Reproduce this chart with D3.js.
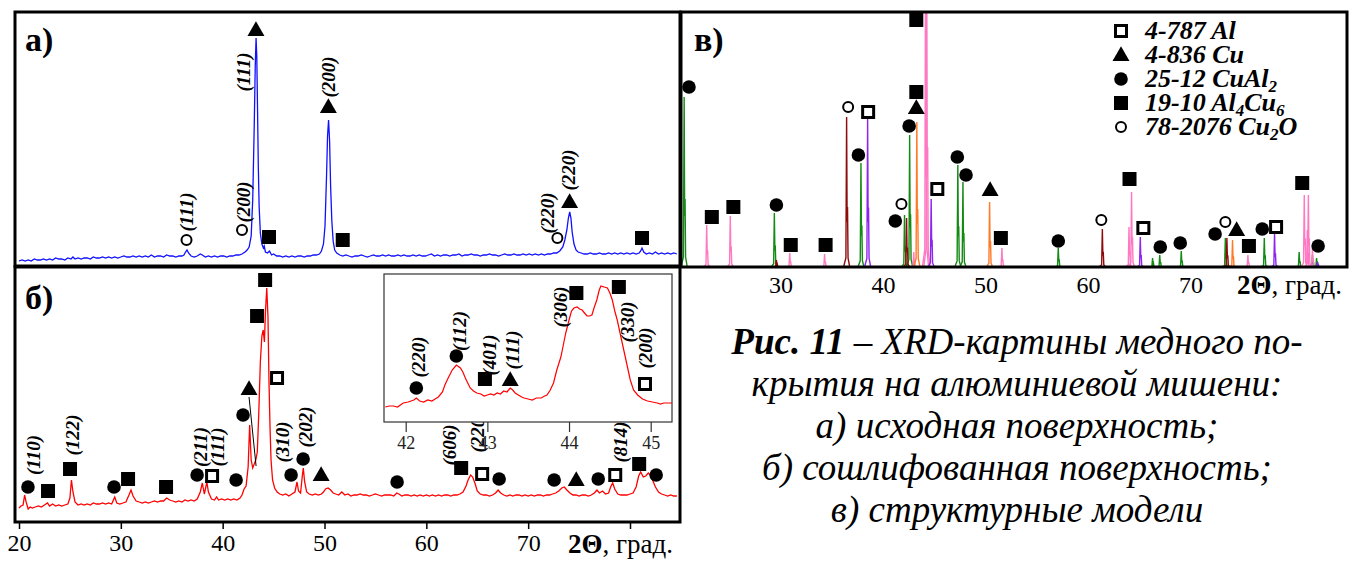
<!DOCTYPE html>
<html>
<head>
<meta charset="utf-8">
<script src="https://cdn.jsdelivr.net/npm/d3@7/dist/d3.min.js"></script>
<style>
  body { margin: 0; background: #fff; }
  svg { display: block; }
</style>
</head>
<body>
<div id="chart"></div>
<script>
// ---- data (2θ in degrees, intensity in arbitrary units) ----

// а) original surface, blue pattern
var patternA = [[20.0,5],[20.3,6],[20.6,5],[20.9,6],[21.2,5],[21.5,7],[21.8,6],[22.1,6],[22.4,7],[22.7,6],[23.0,7],[23.3,6],[23.6,8],[23.9,7],[24.2,7],[24.5,6],[24.8,8],[25.1,7],[25.3,9],[25.5,7],[25.8,8],[26.1,7],[26.4,8],[26.7,8],[27.0,7],[27.3,9],[27.6,8],[27.9,8],[28.2,9],[28.5,8],[28.8,9],[29.1,8],[29.4,9],[29.7,8],[30.0,9],[30.3,10],[30.6,9],[30.9,9],[31.2,10],[31.5,9],[31.8,10],[32.1,9],[32.4,10],[32.7,9],[33.0,11],[33.3,9],[33.6,10],[33.9,10],[34.2,9],[34.5,11],[34.8,10],[35.1,10],[35.4,9],[35.7,10],[36.0,10],[36.2,11],[36.35,14],[36.5,16],[36.65,13],[36.9,10],[37.2,9],[37.5,10],[37.8,12],[38.0,11],[38.3,9],[38.6,10],[38.9,9],[39.2,10],[39.5,9],[39.8,10],[40.1,10],[40.4,9],[40.7,10],[41.0,10],[41.3,11],[41.6,11],[41.9,12],[42.2,14],[42.4,16],[42.6,19],[42.8,30],[42.95,66],[43.1,140],[43.2,200],[43.28,228],[43.35,210],[43.42,160],[43.5,100],[43.58,60],[43.7,33],[43.85,22],[44.0,18],[44.08,20],[44.2,14],[44.4,13],[44.6,15],[44.8,11],[45.0,12],[45.3,10],[45.6,10],[45.9,9],[46.2,10],[46.5,9],[46.8,10],[47.1,9],[47.4,10],[47.7,10],[48.0,9],[48.3,10],[48.6,10],[48.9,11],[49.2,11],[49.5,12],[49.7,15],[49.9,22],[50.05,40],[50.2,90],[50.3,130],[50.4,146],[50.5,125],[50.6,80],[50.72,45],[50.85,25],[51.0,16],[51.2,13],[51.5,11],[51.8,10],[52.1,11],[52.4,10],[52.7,9],[53.0,10],[53.3,10],[53.6,11],[53.9,10],[54.2,9],[54.5,10],[54.8,11],[55.1,10],[55.4,10],[55.7,11],[56.0,10],[56.3,11],[56.6,10],[56.9,10],[57.2,11],[57.5,10],[57.8,11],[58.1,10],[58.4,10],[58.7,11],[59.0,10],[59.3,11],[59.6,10],[59.9,10],[60.2,11],[60.5,12],[60.8,10],[61.1,11],[61.4,10],[61.7,11],[62.0,11],[62.3,10],[62.6,11],[62.9,11],[63.2,12],[63.5,10],[63.8,11],[64.1,11],[64.4,12],[64.7,11],[65.0,11],[65.3,10],[65.6,11],[65.9,11],[66.2,12],[66.5,11],[66.8,11],[67.1,10],[67.4,11],[67.7,12],[68.0,11],[68.3,11],[68.6,12],[68.9,11],[69.2,11],[69.5,12],[69.8,11],[70.1,12],[70.4,11],[70.7,12],[71.0,11],[71.3,12],[71.6,11],[71.9,12],[72.2,12],[72.5,13],[72.8,13],[73.1,15],[73.4,19],[73.6,26],[73.8,36],[73.95,48],[74.08,54],[74.2,48],[74.32,34],[74.5,22],[74.7,16],[74.9,14],[75.2,13],[75.5,12],[75.8,12],[76.1,13],[76.4,12],[76.7,12],[77.0,13],[77.3,12],[77.6,12],[77.9,13],[78.2,12],[78.5,13],[78.8,12],[79.1,13],[79.4,12],[79.7,13],[80.0,12],[80.3,13],[80.6,12],[80.9,13],[81.05,15],[81.18,18],[81.35,14],[81.6,12],[81.9,13],[82.2,12],[82.5,14],[82.8,12],[83.1,13],[83.4,12],[83.7,13],[84.0,12],[84.3,13],[84.6,12]];

// б) ground surface, red pattern
var patternB = [[20.0,14],[20.2,16],[20.4,17],[20.55,27],[20.7,20],[20.9,13],[21.1,15],[21.3,14],[21.6,15],[21.9,16],[22.2,15],[22.5,17],[22.8,19],[23.0,16],[23.3,18],[23.6,16],[23.9,17],[24.2,16],[24.5,17],[24.8,18],[25.0,24],[25.15,42],[25.3,30],[25.5,20],[25.8,17],[26.1,18],[26.4,17],[26.7,18],[27.0,17],[27.3,19],[27.6,18],[27.9,18],[28.2,19],[28.5,18],[28.8,19],[29.1,18],[29.4,25],[29.6,19],[29.9,18],[30.2,19],[30.5,20],[30.8,27],[31.0,32],[31.2,26],[31.5,21],[31.8,20],[32.1,19],[32.4,20],[32.7,19],[33.0,20],[33.3,21],[33.6,20],[33.9,21],[34.2,21],[34.5,24],[34.8,22],[35.1,21],[35.4,20],[35.7,21],[36.0,20],[36.3,22],[36.6,21],[36.9,22],[37.2,21],[37.5,23],[37.8,30],[38.0,39],[38.2,28],[38.45,40],[38.6,30],[38.9,23],[39.2,22],[39.4,25],[39.6,22],[39.9,23],[40.2,22],[40.5,23],[40.8,22],[41.1,23],[41.4,22],[41.7,24],[41.9,27],[42.1,33],[42.3,36],[42.5,55],[42.65,97],[42.8,62],[42.95,54],[43.1,58],[43.25,62],[43.4,70],[43.55,110],[43.7,160],[43.85,186],[43.98,192],[44.1,180],[44.2,210],[44.33,234],[44.45,205],[44.55,140],[44.65,95],[44.75,62],[44.9,42],[45.1,34],[45.35,30],[45.6,28],[45.9,27],[46.2,28],[46.5,26],[46.8,28],[47.1,30],[47.3,40],[47.45,31],[47.65,29],[47.82,46],[47.92,54],[48.05,40],[48.25,30],[48.5,28],[48.8,27],[49.1,28],[49.4,27],[49.7,28],[49.9,30],[50.1,33],[50.35,34],[50.6,32],[50.85,29],[51.1,28],[51.4,27],[51.7,30],[52.0,27],[52.3,28],[52.6,26],[52.9,27],[53.2,27],[53.5,28],[53.8,27],[54.1,27],[54.4,26],[54.7,27],[55.0,28],[55.3,27],[55.6,26],[55.9,27],[56.2,27],[56.5,27],[56.8,26],[57.1,29],[57.3,28],[57.6,26],[57.9,27],[58.2,27],[58.5,26],[58.8,27],[59.1,26],[59.4,27],[59.7,26],[60.0,27],[60.3,26],[60.6,27],[60.9,26],[61.2,27],[61.5,26],[61.8,27],[62.1,27],[62.4,26],[62.7,27],[63.0,27],[63.3,28],[63.6,30],[63.9,36],[64.1,42],[64.35,47],[64.55,45],[64.8,38],[65.0,31],[65.3,28],[65.6,27],[65.9,27],[66.2,26],[66.5,27],[66.8,29],[67.05,32],[67.3,29],[67.6,27],[67.9,26],[68.2,27],[68.5,26],[68.8,27],[69.1,27],[69.4,26],[69.7,27],[70.0,26],[70.3,27],[70.6,26],[70.9,27],[71.2,27],[71.5,26],[71.8,27],[72.1,27],[72.4,28],[72.7,29],[73.0,31],[73.3,34],[73.55,35],[73.8,32],[74.1,29],[74.4,27],[74.7,27],[75.0,26],[75.3,27],[75.6,27],[75.9,26],[76.2,27],[76.5,29],[76.75,32],[77.0,29],[77.3,31],[77.6,28],[77.9,29],[78.1,35],[78.3,39],[78.5,33],[78.8,28],[79.1,27],[79.4,27],[79.7,27],[80.0,28],[80.3,29],[80.6,35],[80.85,46],[81.05,50],[81.3,45],[81.55,46],[81.8,49],[82.0,47],[82.25,41],[82.5,35],[82.8,30],[83.1,28],[83.4,27],[83.7,26],[84.0,27],[84.3,26],[84.6,26]];

// б) inset, 42-45 degrees
var patternInset = [[41.75,3],[41.8,4],[41.85,4],[41.9,3],[41.97,7],[42.03,8],[42.1,10],[42.13,12],[42.17,9],[42.22,8],[42.27,10],[42.32,9],[42.36,11],[42.4,13],[42.45,18],[42.48,25],[42.52,32],[42.57,40],[42.62,45],[42.67,42],[42.7,38],[42.73,32],[42.76,27],[42.79,22],[42.83,19],[42.87,17],[42.92,16],[42.96,14],[43.0,15],[43.04,16],[43.08,15],[43.12,17],[43.16,16],[43.2,19],[43.24,18],[43.28,22],[43.31,20],[43.34,17],[43.38,15],[43.42,13],[43.45,12],[43.5,11],[43.55,10],[43.6,12],[43.66,12],[43.7,14],[43.73,15],[43.77,20],[43.81,27],[43.85,40],[43.9,53],[43.93,65],[43.96,77],[44.0,90],[44.03,99],[44.06,102],[44.1,103],[44.13,101],[44.16,100],[44.2,96],[44.22,94],[44.25,94],[44.28,95],[44.31,103],[44.34,110],[44.37,120],[44.39,124],[44.43,123],[44.47,122],[44.5,117],[44.53,110],[44.56,99],[44.59,90],[44.63,75],[44.67,60],[44.71,45],[44.75,30],[44.79,20],[44.84,15],[44.9,11],[44.96,9],[45.02,8],[45.08,7],[45.12,6],[45.16,7],[45.22,7],[45.26,7]];

// phase markers: [2θ, height, phase]
var markersA = [[36.45,26,"Cu2O"],[41.9,36,"Cu2O"],[43.27,236,"Cu"],[44.55,29,"Al4Cu9"],[50.38,159,"Cu"],[51.79,26,"Al4Cu9"],[72.87,28,"Cu2O"],[74.07,64,"Cu"],[81.18,28,"Al4Cu9"]];
var markersB = [[20.88,35,"CuAl2"],[22.85,31,"Al4Cu9"],[25.01,53,"Al4Cu9"],[29.33,35,"CuAl2"],[30.71,43,"Al4Cu9"],[34.44,35,"Al4Cu9"],[37.49,47,"CuAl2"],[38.96,46,"Al"],[41.32,42,"CuAl2"],[42.0,107,"CuAl2"],[42.59,133,"Cu"],[43.38,206,"Al4Cu9"],[44.17,242,"Al4Cu9"],[45.34,144,"Al"],[46.72,47,"CuAl2"],[47.9,63,"CuAl2"],[49.67,47,"Cu"],[57.13,40,"CuAl2"],[63.42,54,"Al4Cu9"],[65.48,48,"Al"],[67.15,43,"CuAl2"],[72.55,42,"CuAl2"],[74.72,42,"Cu"],[76.88,43,"CuAl2"],[78.55,47,"Al"],[80.9,58,"Al4Cu9"],[82.57,47,"CuAl2"]];
var markersInset = [[42.13,22,"CuAl2"],[42.62,54,"CuAl2"],[42.97,31,"Al4Cu9"],[43.28,30,"Cu"],[44.09,117,"Al4Cu9"],[44.61,123,"Al4Cu9"],[44.93,26,"Al"]];
var markersC = [[21.07,180,"CuAl2"],[23.3,50,"Al4Cu9"],[25.4,60,"Al4Cu9"],[29.6,62,"CuAl2"],[31.0,22,"Al4Cu9"],[34.4,22,"Al4Cu9"],[36.6,160,"Cu2O"],[38.55,155,"Al"],[37.6,112,"CuAl2"],[41.2,46,"CuAl2"],[41.8,63,"Cu2O"],[42.55,141,"CuAl2"],[43.25,159,"Cu"],[43.25,175,"Al4Cu9"],[43.25,247,"Al4Cu9"],[45.3,78,"Al"],[47.25,110,"CuAl2"],[48.1,92,"CuAl2"],[50.45,77,"Cu"],[51.5,29,"Al4Cu9"],[57.1,26,"CuAl2"],[61.3,47,"Cu2O"],[64.05,88,"Al4Cu9"],[65.4,39,"Al"],[67.05,20,"CuAl2"],[69.0,24,"CuAl2"],[72.4,33,"CuAl2"],[73.4,45,"Cu2O"],[74.5,37,"Cu"],[75.7,21,"Al4Cu9"],[77.0,38,"CuAl2"],[78.35,40,"Al"],[80.9,84,"Al4Cu9"],[82.45,21,"CuAl2"]];

// Miller index labels: [2θ, height, text]
var hklA = [[36.45,54,"(111)"],[42.0,64,"(200)"],[42.07,194,"(111)"],[50.38,189,"(200)"],[71.9,53,"(220)"],[73.93,96,"(220)"]];
var hklB = [[21.38,67,"(110)"],[25.2,87,"(122)"],[37.78,75,"(211)"],[39.45,75,"(111)"],[45.83,80,"(310)"],[48.1,95,"(202)"],[62.24,77,"(606)"],[64.99,90,"(220)"],[79.04,80,"(814)"]];
var hklInset = [[42.15,53,"(220)"],[42.66,79,"(112)"],[43.03,55,"(401)"],[43.31,60,"(111)"],[43.89,103,"(306)"],[44.72,88,"(330)"],[44.93,62,"(200)"]];
// line from Cu marker to its small peak in б)
var cuLeader = [[42.59,125],[43.28,56]];

// в) card lines per phase: [2θ, height]
var linesCuAl2 = [[20.6,170],[29.4,54],[37.85,104],[42.1,52],[42.6,132],[47.3,102],[47.8,85],[57.1,19],[66.3,9],[67.0,12],[69.1,16],[73.4,29],[77.2,29],[80.6,15],[81.9,12],[82.3,9]];
var linesAl4Cu9 = [[22.8,42],[25.1,51],[30.9,14],[34.3,13],[43.0,15],[44.15,300],[44.27,300],[51.6,19],[64.0,40],[64.25,75],[75.6,12],[81.1,72],[81.4,37],[81.5,72],[81.9,18]];
var linesCu2O = [[29.6,7],[36.45,150],[42.3,49],[61.4,38],[73.55,29]];
var linesAl = [[38.5,149],[44.7,68],[65.1,30],[78.2,34],[82.4,5]];
var linesCu = [[43.3,145],[50.4,65],[74.1,27]];

var ticksMain = [20, 30, 40, 50, 60, 70, 80];
var ticksC = [30, 40, 50, 60, 70];
var ticksInset = [42, 43, 44, 45];

var legendCards = ["4-787", "4-836", "25-12", "19-10", "78-2076"];
var legendPhases = ["Al", "Cu", "CuAl2", "Al4Cu9", "Cu2O"];
var legendNames = [[["Al",0]], [["Cu",0]], [["CuAl",0],["2",1]], [["Al",0],["4",1],["Cu",0],["6",1]], [["Cu",0],["2",1],["O",0]]];

var captionLines = [
    [["Рис. 11", true], [" – XRD-картины медного по-", false]],
    [["крытия на алюминиевой мишени:", false]],
    [["а) исходная поверхность;", false]],
    [["б) сошлифованная поверхность;", false]],
    [["в) структурные модели", false]]
];

// ---- drawing ----
var serif = "'Liberation Serif', 'DejaVu Serif', serif";

var svg = d3.select("#chart").append("svg")
    .attr("width", 1350)
    .attr("height", 563);

var x = d3.scaleLinear().domain([20, 80]).range([19, 630]);
var yA = d3.scaleLinear().domain([0, 254]).range([266, 12]);
var yB = d3.scaleLinear().domain([0, 255]).range([522, 267]);
var xIn = d3.scaleLinear().domain([42, 45]).range([405.7, 650.7]);
var yIn = d3.scaleLinear().domain([0, 136]).range([410, 274]);
var xC = d3.scaleLinear().domain([40, 50]).range([883, 985.5]);
var yC = d3.scaleLinear().domain([0, 255]).range([267, 12]);

var phaseColor = {CuAl2: "#138a13", Al4Cu9: "#ff78c2", Cu2O: "#8e0b0b", Al: "#8d25ee", Cu: "#ff7a26"};

function drawMarker(g, type, px, py) {
    if (type == "Cu") {
        g.append("path")
            .attr("d", d3.symbol(d3.symbolTriangle, 125)())
            .attr("transform", "translate(" + px + "," + (py + 1) + ")")
            .attr("fill", "#000");
    } else if (type == "CuAl2") {
        g.append("circle").attr("cx", px).attr("cy", py).attr("r", 6.8).attr("fill", "#000");
    } else if (type == "Al4Cu9") {
        g.append("rect").attr("x", px - 7).attr("y", py - 7).attr("width", 14).attr("height", 14).attr("fill", "#000");
    } else if (type == "Al") {
        g.append("rect").attr("x", px - 5.5).attr("y", py - 5.5).attr("width", 11).attr("height", 11)
            .attr("fill", "#fff").attr("stroke", "#000").attr("stroke-width", 3);
    } else {
        g.append("circle").attr("cx", px).attr("cy", py).attr("r", 5)
            .attr("fill", "#fff").attr("stroke", "#000").attr("stroke-width", 2);
    }
}

function drawMarkers(g, list, xs, ys) {
    list.forEach(function(d) { drawMarker(g, d[2], xs(d[0]), ys(d[1])); });
}

function drawHkl(g, list, xs, ys) {
    g.selectAll(null)
        .data(list)
        .enter().append("text")
        .attr("transform", function(d) { return "translate(" + xs(d[0]) + "," + ys(d[1]) + ") rotate(-90)"; })
        .attr("text-anchor", "middle")
        .attr("dy", "0.35em")
        .style("font-family", serif)
        .style("font-size", "19px")
        .style("font-weight", "bold")
        .style("font-style", "italic")
        .text(function(d) { return d[2]; });
}

function panelLabel(px, py, txt) {
    svg.append("text")
        .attr("x", px).attr("y", py)
        .style("font-family", serif)
        .style("font-size", "34px")
        .style("font-weight", "bold")
        .text(txt);
}

// а) pattern
var gA = svg.append("g");
gA.append("path")
    .datum(patternA)
    .attr("fill", "none")
    .attr("stroke", "#1010ff")
    .attr("stroke-width", 1.3)
    .attr("d", d3.line().x(function(d) { return x(d[0]); }).y(function(d) { return yA(d[1]); }));
drawMarkers(gA, markersA, x, yA);
drawHkl(gA, hklA, x, yA);

// б) pattern
var gB = svg.append("g");
gB.append("path")
    .datum(patternB)
    .attr("fill", "none")
    .attr("stroke", "#ff0000")
    .attr("stroke-width", 1.3)
    .attr("d", d3.line().x(function(d) { return x(d[0]); }).y(function(d) { return yB(d[1]); }));
gB.append("line")
    .attr("x1", x(cuLeader[0][0])).attr("y1", yB(cuLeader[0][1]))
    .attr("x2", x(cuLeader[1][0])).attr("y2", yB(cuLeader[1][1]))
    .attr("stroke", "#000").attr("stroke-width", 1);
drawMarkers(gB, markersB, x, yB);
drawHkl(gB, hklB, x, yB);

// б) x axis
var axisB = svg.append("g")
    .attr("transform", "translate(0,522)")
    .call(d3.axisBottom(x).tickValues(ticksMain).tickSize(7).tickPadding(5)
        .tickFormat(function(d) { return d == 80 ? "" : d; }));
axisB.select(".domain").remove();
axisB.selectAll("line").attr("stroke", "#000").attr("stroke-width", 1.5);
axisB.selectAll("text").style("font-family", serif).style("font-size", "24px").attr("fill", "#000");

// inset
var gIn = svg.append("g");
gIn.append("rect")
    .attr("x", 384).attr("y", 274).attr("width", 288).attr("height", 148)
    .attr("fill", "#fff").attr("stroke", "#333").attr("stroke-width", 1.2);
gIn.append("path")
    .datum(patternInset)
    .attr("fill", "none")
    .attr("stroke", "#ff0000")
    .attr("stroke-width", 1.2)
    .attr("d", d3.line().x(function(d) { return xIn(d[0]); }).y(function(d) { return yIn(d[1]); }));
drawMarkers(gIn, markersInset, xIn, yIn);
drawHkl(gIn, hklInset, xIn, yIn);
var axisIn = gIn.append("g")
    .attr("transform", "translate(0,422)")
    .call(d3.axisBottom(xIn).tickValues(ticksInset).tickSize(10).tickPadding(4).tickFormat(d3.format("d")));
axisIn.select(".domain").remove();
axisIn.selectAll("line").attr("stroke", "#333").attr("stroke-width", 1.2);
axisIn.selectAll("text").style("font-family", serif).style("font-size", "18px").attr("fill", "#222");

// в) card lines
svg.append("clipPath").attr("id", "clipC")
    .append("rect").attr("x", 681).attr("y", 12).attr("width", 666).attr("height", 255);
var gC = svg.append("g");
var gLines = gC.append("g").attr("clip-path", "url(#clipC)");
var stick = d3.line().x(function(d) { return xC(d[0]); }).y(function(d) { return yC(d[1]); });
function drawSticks(list, color) {
    gLines.selectAll(null)
        .data(list)
        .enter().append("path")
        .attr("fill", "none")
        .attr("stroke", color)
        .attr("stroke-width", 1.4)
        .attr("d", function(d) {
            var t = d[0], h = d[1];
            return stick([[t - 0.3, 0], [t - 0.07, h * 0.06], [t, h], [t + 0.05, h * 0.3],
                          [t + 0.09, h * 0.4], [t + 0.14, h * 0.06], [t + 0.3, 0]]);
        });
}
drawSticks(linesCuAl2, phaseColor.CuAl2);
drawSticks(linesAl4Cu9, phaseColor.Al4Cu9);
drawSticks(linesCu2O, phaseColor.Cu2O);
drawSticks(linesAl, phaseColor.Al);
drawSticks(linesCu, phaseColor.Cu);
drawMarkers(gC, markersC, xC, yC);

var axisC = svg.append("g")
    .attr("transform", "translate(0,267)")
    .call(d3.axisBottom(xC).tickValues(ticksC).tickSize(0).tickPadding(9));
axisC.select(".domain").remove();
axisC.selectAll("text").style("font-family", serif).style("font-size", "24px").attr("fill", "#000");

// legend
var legend = svg.append("g");
legendPhases.forEach(function(p, i) {
    var cy = 31 + i * 24;
    drawMarker(legend, p, 1121, cy);
    var t = legend.append("text")
        .attr("x", 1145).attr("y", cy + 8)
        .style("font-family", serif)
        .style("font-size", "26px")
        .style("font-weight", "bold")
        .style("font-style", "italic");
    t.append("tspan").text(legendCards[i] + " ");
    var low = false;
    legendNames[i].forEach(function(part) {
        var s = t.append("tspan").text(part[0]);
        if (part[1]) {
            s.attr("dy", low ? 0 : 5).style("font-size", "17px");
            low = true;
        } else if (low) {
            s.attr("dy", -5);
            low = false;
        }
    });
});

// axis titles
function axisTitle(px, py) {
    var t = svg.append("text").attr("x", px).attr("y", py)
        .attr("text-anchor", "end")
        .style("font-family", serif).style("font-size", "27px");
    t.append("tspan").style("font-weight", "bold").text("2Θ");
    t.append("tspan").text(", град.");
}
axisTitle(673, 553);
axisTitle(1342, 294);

// frames
svg.append("rect").attr("x", 15).attr("y", 12).attr("width", 665).attr("height", 254)
    .attr("fill", "none").attr("stroke", "#000").attr("stroke-width", 3);
svg.append("rect").attr("x", 15).attr("y", 267).attr("width", 665).attr("height", 255)
    .attr("fill", "none").attr("stroke", "#000").attr("stroke-width", 3);
svg.append("rect").attr("x", 681).attr("y", 12).attr("width", 666).attr("height", 255)
    .attr("fill", "none").attr("stroke", "#000").attr("stroke-width", 3);

panelLabel(25, 51, "а)");
panelLabel(25, 309, "б)");
panelLabel(694, 51, "в)");

// caption
captionLines.forEach(function(line, i) {
    var t = svg.append("text")
        .attr("x", 1017).attr("y", 354 + i * 42)
        .attr("text-anchor", "middle")
        .style("font-family", serif)
        .style("font-size", "37px")
        .style("font-style", "italic");
    line.forEach(function(part) {
        t.append("tspan").style("font-weight", part[1] ? "bold" : "normal").text(part[0]);
    });
});
</script>
</body>
</html>
